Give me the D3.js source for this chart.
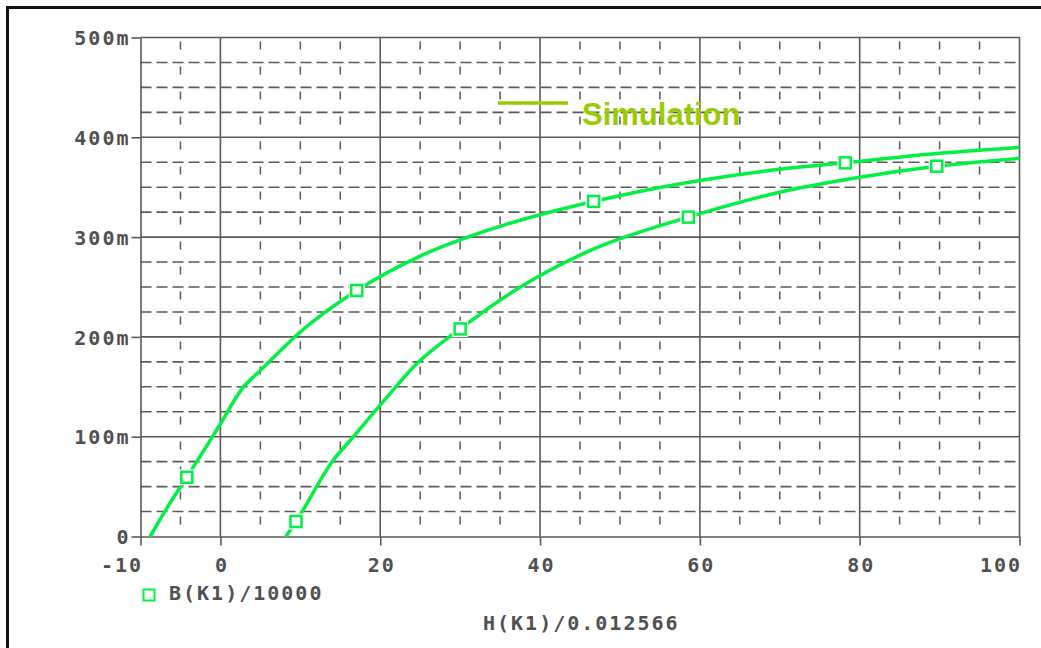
<!DOCTYPE html>
<html>
<head>
<meta charset="utf-8">
<script src="https://cdn.jsdelivr.net/npm/d3@7"></script>
<style>
  body { margin: 0; background: #fff; }
  svg { display: block; }
  .lbl { font-family: 'DejaVu Sans Mono', monospace; font-weight: bold; font-size: 20px; letter-spacing: 2px; fill: #505050; }
</style>
</head>
<body>
<svg width="1041" height="648"></svg>
<script>
// upper branch of the B-H loop (H, B in milli units)
const upperH = [-8.8, -6.5, -4.2, -2, -0.26, 2.87, 4.96, 9.96, 17.06, 25, 33.3, 42.5, 46.7, 52, 60, 70, 78.2, 90, 100]
const upperB = [0, 31, 59.4, 87, 109.5, 149.6, 166, 204.7, 246.5, 281, 306.4, 327.7, 335.7, 345, 356.7, 368, 374.4, 384, 390]
// lower branch
const lowerH = [8.2, 9.46, 14.1, 16.6, 19.97, 24.57, 30, 37.5, 46.3, 58.56, 70, 80, 89.65, 100]
const lowerB = [0, 15, 76.2, 99.5, 131.3, 173, 208, 249.8, 286.6, 320, 345, 360, 371, 379]
// marker points
const markH = [-4.2, 17.06, 46.7, 78.2, 9.46, 30, 58.56, 89.65]
const markB = [59.4, 246.5, 335.7, 374.4, 15, 208, 320, 371]

const xTicks = [-10, 0, 20, 40, 60, 80, 100]
const xTickLabels = ['-10', '0', '20', '40', '60', '80', '100']
const yTicks = [0, 100, 200, 300, 400, 500]
const yTickLabels = ['0', '100m', '200m', '300m', '400m', '500m']

const traceName = 'B(K1)/10000'
const xTitle = 'H(K1)/0.012566'
const legendName = 'Simulation'

const green = '#00f044'
const grid = '#5a5a5a'

const svg = d3.select('svg')

// outer frame (only top and left show)
svg.append('rect').attr('x', 7.5).attr('y', 7.5).attr('width', 1100).attr('height', 700)
    .attr('fill', 'none').attr('stroke', '#111').attr('stroke-width', 3)

const x = d3.scaleLinear().domain([-10, 100]).range([140.5, 1019.5])
const y = d3.scaleLinear().domain([0, 500]).range([536.5, 37.5])

const g = svg.append('g')

// vertical grid
d3.range(-5, 100, 5).forEach(v => {
    const major = v % 20 === 0
    g.append('line').attr('x1', x(v)).attr('x2', x(v)).attr('y1', y(500)).attr('y2', y(0))
        .attr('stroke', grid).attr('stroke-width', major ? 1.6 : 1.5)
        .attr('stroke-dasharray', major ? null : '8,17')
        .attr('stroke-dashoffset', major ? null : -4)
})
// horizontal grid
d3.range(25, 500, 25).forEach(v => {
    const major = v % 100 === 0
    g.append('line').attr('x1', x(-10)).attr('x2', x(100)).attr('y1', y(v)).attr('y2', y(v))
        .attr('stroke', grid).attr('stroke-width', 1.6)
        .attr('stroke-dasharray', major ? null : '11,5')
})
// frame top/right
g.append('path').attr('d', `M${x(-10)},${y(500)}H${x(100)}V${y(0)}`)
    .attr('fill', 'none').attr('stroke', grid).attr('stroke-width', 1.6)

// axes
const yAxis = g.append('g').attr('transform', `translate(${x(-10)},0)`)
    .call(d3.axisLeft(y).tickValues(yTicks).tickSize(9).tickSizeOuter(0).tickFormat((d, i) => yTickLabels[i]))
const xAxis = g.append('g').attr('transform', `translate(0,${y(0)})`)
    .call(d3.axisBottom(x).tickValues(xTicks).tickSize(9).tickSizeOuter(0).tickFormat((d, i) => xTickLabels[i]))
;[xAxis, yAxis].forEach(a => {
    a.select('.domain').attr('stroke', grid).attr('stroke-width', 1.6)
    a.selectAll('.tick line').attr('stroke', grid).attr('stroke-width', 1.6)
    a.selectAll('.tick text').attr('class', 'lbl').attr('font-size', null).attr('font-family', null).attr('fill', null)
})
yAxis.selectAll('.tick text').attr('x', -10).attr('dy', '0.36em')
xAxis.selectAll('.tick text').attr('dy', null).attr('y', 35)
    .attr('text-anchor', (d, i) => (i === 0 || i === xTicks.length - 1) ? 'end' : 'middle')
    .attr('dx', (d, i) => (i === 0 || i === xTicks.length - 1) ? 2 : 1)

// curves
const line = d3.line().x(d => x(d[0])).y(d => y(d[1])).curve(d3.curveMonotoneX)
const upper = upperH.map((h, i) => [h, upperB[i]])
const lower = lowerH.map((h, i) => [h, lowerB[i]])
;[upper, lower].forEach(pts => {
    g.append('path').attr('d', line(pts)).attr('fill', 'none')
        .attr('stroke', green).attr('stroke-width', 3.5)
})

// markers
const marks = markH.map((h, i) => [h, markB[i]])
g.selectAll('.gap').data(marks).enter().append('rect')
    .attr('x', d => x(d[0]) - 8).attr('y', d => y(d[1]) - 8).attr('width', 16).attr('height', 16)
    .attr('fill', '#fff')
g.selectAll('.mk').data(marks).enter().append('rect')
    .attr('x', d => x(d[0]) - 5.5).attr('y', d => y(d[1]) - 5.5).attr('width', 11).attr('height', 11)
    .attr('fill', 'none').attr('stroke', green).attr('stroke-width', 2.5)

// trace legend and x title
svg.append('rect').attr('x', 143.5).attr('y', 589.5).attr('width', 11).attr('height', 11)
    .attr('fill', 'none').attr('stroke', green).attr('stroke-width', 2)
svg.append('text').attr('class', 'lbl').attr('x', 169).attr('y', 600).text(traceName)
svg.append('text').attr('class', 'lbl').attr('x', 483).attr('y', 630).text(xTitle)

// Simulation legend
svg.append('line').attr('x1', 498).attr('x2', 568).attr('y1', 103).attr('y2', 103)
    .attr('stroke', '#99cc00').attr('stroke-width', 3.5)
svg.append('text').attr('x', 582).attr('y', 125)
    .attr('font-family', 'Liberation Sans, Arial, sans-serif').attr('font-weight', 'bold')
    .attr('font-size', 31).attr('fill', '#99cc00').text(legendName)
</script>
</body>
</html>
